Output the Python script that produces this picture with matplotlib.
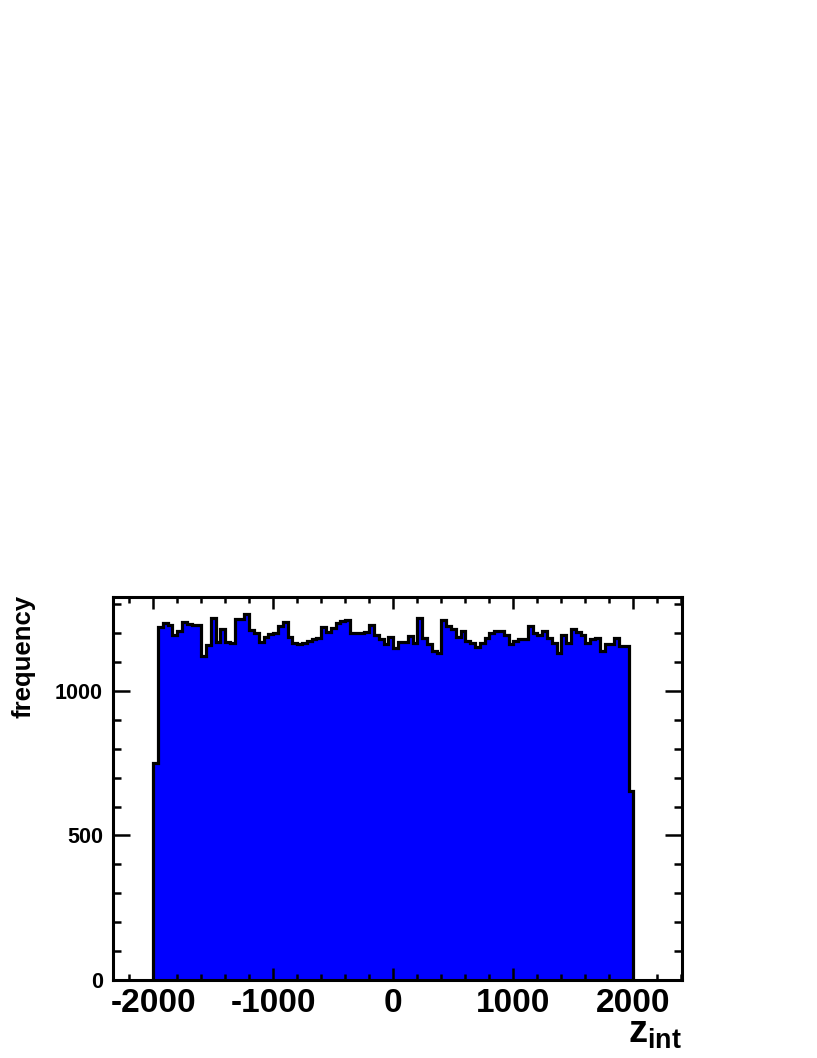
import numpy as np
import matplotlib
matplotlib.use("Agg")
import matplotlib.pyplot as plt
from matplotlib.ticker import MultipleLocator

plt.rcParams['font.family'] = ['Liberation Sans', 'DejaVu Sans']
plt.rcParams['font.weight'] = 'bold'
plt.rcParams['axes.unicode_minus'] = False
plt.rcParams['mathtext.fontset'] = 'custom'
plt.rcParams['mathtext.bf'] = 'Liberation Sans:bold'
plt.rcParams['mathtext.rm'] = 'Liberation Sans:bold'

# histogram of z_int, 40 wide bins starting at -2000
bin_lo = -2000
bin_width = 40
counts = [
    750, 1220, 1234, 1228, 1193, 1208, 1238, 1230, 1228, 1229,
    1122, 1160, 1254, 1168, 1214, 1168, 1166, 1250, 1248, 1265,
    1210, 1202, 1170, 1188, 1196, 1202, 1224, 1240, 1186, 1167,
    1163, 1167, 1172, 1180, 1184, 1221, 1203, 1218, 1236, 1241,
    1245, 1199, 1199, 1199, 1205, 1228, 1195, 1180, 1161, 1186,
    1150, 1170, 1168, 1190, 1167, 1251, 1182, 1161, 1138, 1132,
    1245, 1224, 1216, 1185, 1209, 1172, 1167, 1153, 1167, 1184,
    1199, 1207, 1209, 1195, 1161, 1172, 1178, 1178, 1225, 1200,
    1195, 1209, 1182, 1167, 1132, 1195, 1167, 1216, 1205, 1195,
    1167, 1178, 1184, 1138, 1163, 1161, 1182, 1157, 1157, 655,
]
x_range = (-2338, 2403)
y_range = (0, 1325)

edges = bin_lo + bin_width * np.arange(len(counts) + 1)

W, H = 817, 1058
fig = plt.figure(figsize=(W / 100, H / 100), dpi=100)
ax_l, ax_r, ax_t, ax_b = 112.7, 681.7, 597, 980
ax = fig.add_axes([ax_l / W, 1 - ax_b / H, (ax_r - ax_l) / W, (ax_b - ax_t) / H])

ax.stairs(counts, edges, baseline=0, fill=True, color='#0000ff', lw=0)
ax.stairs(counts, edges, baseline=0, fill=False, color='black', lw=2.3)

ax.set_xlim(*x_range)
ax.set_ylim(*y_range)

ax.xaxis.set_major_locator(MultipleLocator(1000))
ax.xaxis.set_minor_locator(MultipleLocator(200))
ax.yaxis.set_major_locator(MultipleLocator(500))
ax.yaxis.set_minor_locator(MultipleLocator(100))

for s in ax.spines.values():
    s.set_linewidth(2.2)
    s.set_zorder(5)

ax.tick_params(which='both', direction='in', top=True, right=True, width=1.8, colors='black')
ax.tick_params(axis='x', which='major', length=8.6, labelsize=24, pad=6)
ax.tick_params(axis='x', which='minor', length=4.3)
ax.tick_params(axis='y', which='major', length=12.2, labelsize=15.5, pad=7)
ax.tick_params(axis='y', which='minor', length=6.1)
for lab in ax.get_xticklabels() + ax.get_yticklabels():
    lab.set_fontweight('bold')

# axis titles, ROOT style
fig.text(ax_r / W, 1 - 1043 / H, r'$\mathbf{z_{int}}$', ha='right', va='baseline', fontsize=27.5)
fig.text(23.5 / W, 1 - 595 / H, 'frequency', rotation=90, ha='center', va='top',
         fontsize=18.5, fontweight='bold')

fig.savefig('out.png', dpi=100)
